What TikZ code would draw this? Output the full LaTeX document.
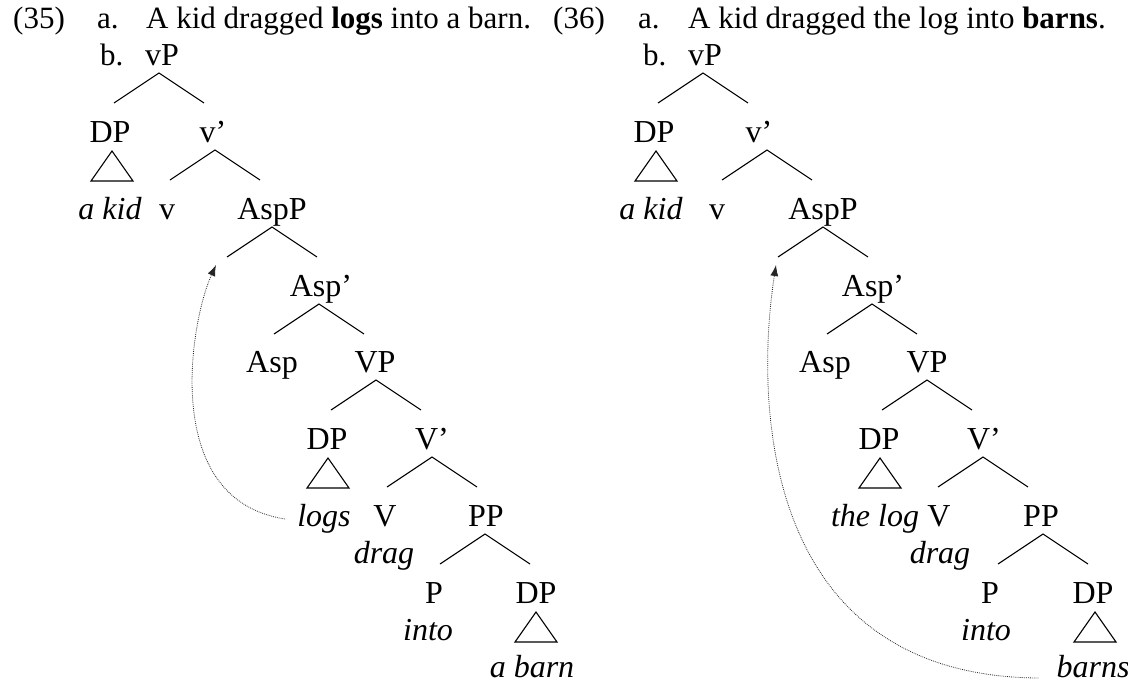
\documentclass[tikz,border=0pt]{standalone}
\usepackage{fontspec}
\setmainfont{Liberation Serif}
\usetikzlibrary{calc,arrows.meta}
\newcommand\brnch[2]{\draw[branch] ($(#1.base)+(#2,8)$) +(-45,30) -- +(0,0) -- +(45,30);}
\newcommand\trngl[2]{\draw[branch] ($(#1.base)+(#2,9)$) +(-21,30) -- +(0,0) -- +(21,30) -- cycle;}
\begin{document}
\begin{tikzpicture}[x=1pt,y=-1pt,
  txt/.style={inner sep=0pt,anchor=base,font=\fontsize{32}{37}\selectfont},
  ltxt/.style={inner sep=0pt,anchor=base west,font=\fontsize{31}{37}\selectfont},
  itx/.style={txt,font=\fontsize{32}{37}\selectfont\itshape},
  branch/.style={line width=1.1pt,line join=miter},
  movearrow/.style={line width=0.8pt,black!85,dash pattern=on 0.8pt off 1.1pt,-{Latex[length=11pt,width=8pt]}}]
\useasboundingbox (0,0) rectangle (1128,683);
% ---------- (35) ----------
\node[ltxt] (n35) at (13,28) {(35)};
\node[ltxt] (la) at (97,28) {a.};
\node[ltxt] (ls) at (146,28) {A kid dragged \textbf{logs} into a barn.};
\node[ltxt] (lb) at (100,65) {b.};
\node[txt] (LvP) at (162,65) {vP};
\node[txt] (LDPa) at (110,142) {DP};
\node[txt] (Lvbar) at (213,142) {v’};
\node[itx] (Lakid) at (110,219) {a kid};
\node[txt] (Lv) at (167,219) {v};
\node[txt] (LAspP) at (272,219) {AspP};
\node[txt] (LAspbar) at (321,296) {Asp’};
\node[txt] (LAsp) at (272,372) {Asp};
\node[txt] (LVP) at (375,372) {VP};
\node[txt] (LDPb) at (327,449) {DP};
\node[txt] (LVbar) at (432,449) {V’};
\node[itx] (Llogs) at (324,526) {logs};
\node[txt] (LV) at (385,526) {V};
\node[txt] (LPP) at (486,526) {PP};
\node[itx] (Ldrag) at (384,563) {drag};
\node[txt] (LP) at (434,603) {P};
\node[txt] (LDPc) at (536,603) {DP};
\node[itx] (Linto) at (428,640) {into};
\node[itx] (Labarn) at (532,677) {a barn};
\brnch{LvP}{-3}
\trngl{LDPa}{2}
\brnch{Lvbar}{2}
\brnch{LAspP}{0}
\brnch{LAspbar}{-2}
\brnch{LVP}{1}
\trngl{LDPb}{1}
\brnch{LVbar}{0}
\brnch{LPP}{-1}
\trngl{LDPc}{0}
\coordinate (Lstart) at ($(Llogs.base west)+(-12,-7)$);
\coordinate (Ltip) at ($(LAspP.base)+(-56,46)$);
\draw[movearrow] (Lstart) .. controls (160,500) and (190,322) .. (Ltip);
% ---------- (36) ----------
\node[ltxt] (n36) at (553,28) {(36)};
\node[ltxt] (ra) at (638,28) {a.};
\node[ltxt] (rs) at (688,28) {A kid dragged the log into \textbf{barns}.};
\node[ltxt] (rb) at (643,65) {b.};
\node[txt] (RvP) at (705,65) {vP};
\node[txt] (RDPa) at (654,142) {DP};
\node[txt] (Rvbar) at (759,142) {v’};
\node[itx] (Rakid) at (651,219) {a kid};
\node[txt] (Rv) at (717,219) {v};
\node[txt] (RAspP) at (823,219) {AspP};
\node[txt] (RAspbar) at (873,296) {Asp’};
\node[txt] (RAsp) at (825,372) {Asp};
\node[txt] (RVP) at (927,372) {VP};
\node[txt] (RDPb) at (879,449) {DP};
\node[txt] (RVbar) at (984,449) {V’};
\node[itx] (Rthelog) at (875,526) {the log};
\node[txt] (RV) at (939,526) {V};
\node[txt] (RPP) at (1041,526) {PP};
\node[itx] (Rdrag) at (940,563) {drag};
\node[txt] (RP) at (990,603) {P};
\node[txt] (RDPc) at (1093,603) {DP};
\node[itx] (Rinto) at (986,640) {into};
\node[itx] (Rbarns) at (1093,677) {barns};
\brnch{RvP}{-2}
\trngl{RDPa}{2}
\brnch{Rvbar}{8}
\brnch{RAspP}{0}
\brnch{RAspbar}{-1}
\brnch{RVP}{0}
\trngl{RDPb}{1}
\brnch{RVbar}{-1}
\brnch{RPP}{2}
\trngl{RDPc}{2}
\coordinate (Rstart) at ($(Rbarns.base west)+(-18,1)$);
\coordinate (Rtip) at ($(RAspP.base)+(-47,46)$);
\draw[movearrow] (Rstart) .. controls (760,676) and (755,400) .. (Rtip);
\end{tikzpicture}
\end{document}
